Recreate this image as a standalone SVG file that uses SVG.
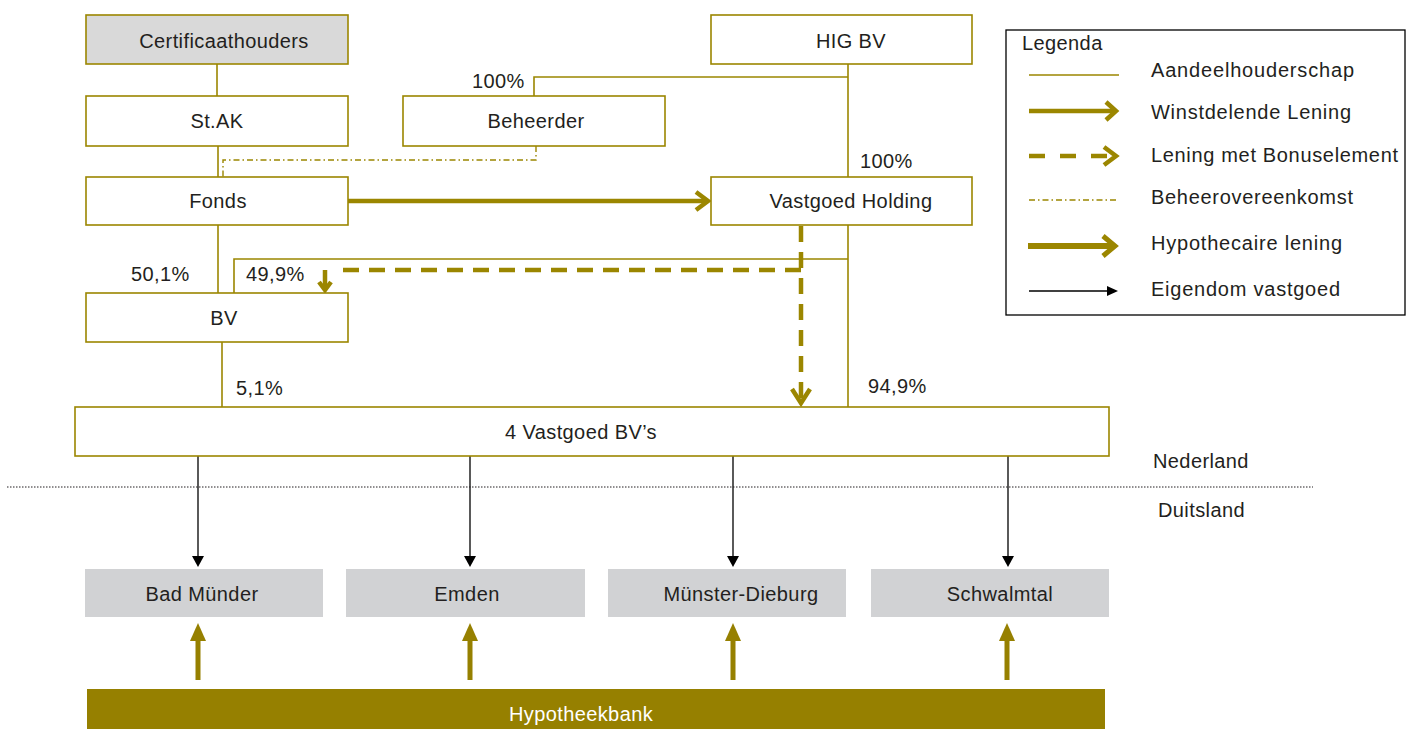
<svg xmlns="http://www.w3.org/2000/svg" width="1411" height="729" viewBox="0 0 1411 729">
<style>
text{font-family:"Liberation Sans","Noto Sans",sans-serif;font-size:20px;letter-spacing:0.4px;fill:#231f20}
.c{text-anchor:middle}
.lg{letter-spacing:0}
.box{fill:#fff;stroke:#9b8600;stroke-width:1.6}
.gbox{fill:#d9d9d9;stroke:#9b8600;stroke-width:1.6}
.de{fill:#d1d2d4}
.own{fill:none;stroke:#9b8600;stroke-width:1.6}
.thick{fill:none;stroke:#9b8600;stroke-width:4.5}
.dash{fill:none;stroke:#9b8600;stroke-width:4.5;stroke-dasharray:16,10}
.dd{fill:none;stroke:#9b8600;stroke-width:1.4;stroke-dasharray:6,3,1.5,3}
.blk{fill:none;stroke:#000;stroke-width:1.3}
</style>
<rect width="1411" height="729" fill="#fff"/>
<g id="connectors">
<line class="own" x1="217" y1="64" x2="217" y2="96"/>
<line class="own" x1="218" y1="146" x2="218" y2="177"/>
<line class="own" x1="848" y1="64" x2="848" y2="177"/>
<polyline class="own" points="848,77 534,77 534,96"/>
<line class="own" x1="218" y1="225" x2="218" y2="293"/>
<line class="own" x1="848" y1="225" x2="848" y2="407"/>
<polyline class="own" points="848,259 234,259 234,293"/>
<line class="own" x1="222" y1="342" x2="222" y2="407"/>
<polyline class="dd" points="536,146 536,160 223,160 223,177"/>
<line class="thick" x1="348" y1="201" x2="707" y2="201"/>
<polyline class="thick" points="696,192 708,201 696,210"/>
<line class="dash" x1="801" y1="226" x2="801" y2="402"/>
<polyline class="thick" points="792,389 801,403 810,389"/>
<line class="dash" x1="801" y1="270" x2="336" y2="270"/>
<line class="thick" x1="325" y1="270" x2="325" y2="289"/>
<polyline class="thick" points="319,282 325,290 331,282"/>
<g>
<line class="blk" x1="198" y1="456" x2="198" y2="558"/><path d="M192,556 L204,556 L198,567 Z" fill="#000"/>
<line class="blk" x1="470" y1="456" x2="470" y2="558"/><path d="M464,556 L476,556 L470,567 Z" fill="#000"/>
<line class="blk" x1="733" y1="456" x2="733" y2="558"/><path d="M727,556 L739,556 L733,567 Z" fill="#000"/>
<line class="blk" x1="1008" y1="456" x2="1008" y2="558"/><path d="M1002,556 L1014,556 L1008,567 Z" fill="#000"/>
</g>
<g fill="#968000">
<rect x="195.5" y="638" width="5" height="42"/><path d="M190,641 L206,641 L198,623 Z"/>
<rect x="467.5" y="638" width="5" height="42"/><path d="M462,641 L478,641 L470,623 Z"/>
<rect x="730.5" y="638" width="5" height="42"/><path d="M725,641 L741,641 L733,623 Z"/>
<rect x="1004.5" y="638" width="5" height="42"/><path d="M999,641 L1015,641 L1007,623 Z"/>
</g>
</g>
<g id="labels">
<text x="472" y="88">100%</text>
<text x="860" y="168">100%</text>
<text x="131" y="281">50,1%</text>
<text x="246" y="281">49,9%</text>
<text x="236" y="395">5,1%</text>
<text x="868" y="393">94,9%</text>
</g>
<line x1="7" y1="487" x2="1313" y2="487" stroke="#231f20" stroke-width="1" stroke-dasharray="1.5,1.5"/>
<text x="1153" y="468">Nederland</text>
<text x="1158" y="517">Duitsland</text>
<g id="certificaathouders"><rect class="gbox" x="86" y="15" width="262" height="49"/><text class="c" x="224" y="48">Certificaathouders</text></g>
<g id="higbv"><rect class="box" x="711" y="15" width="261" height="49"/><text class="c" x="851" y="48">HIG BV</text></g>
<g id="stak"><rect class="box" x="86" y="96" width="262" height="50"/><text class="c" x="217" y="128">St.AK</text></g>
<g id="beheerder"><rect class="box" x="403" y="96" width="262" height="50"/><text class="c" x="536" y="128">Beheerder</text></g>
<g id="fonds"><rect class="box" x="86" y="177" width="262" height="48"/><text class="c" x="218" y="208">Fonds</text></g>
<g id="vastgoedholding"><rect class="box" x="711" y="177" width="261" height="48"/><text class="c" x="851" y="208">Vastgoed Holding</text></g>
<g id="bv"><rect class="box" x="86" y="293" width="262" height="49"/><text class="c" x="224" y="325">BV</text></g>
<g id="vastgoedbvs"><rect class="box" x="75" y="407" width="1034" height="49"/><text class="c" x="581" y="439">4 Vastgoed BV’s</text></g>
<g id="badmunder"><rect class="de" x="85" y="569" width="238" height="48"/><text class="c" x="202" y="601">Bad Münder</text></g>
<g id="emden"><rect class="de" x="346" y="569" width="239" height="48"/><text class="c" x="467" y="601">Emden</text></g>
<g id="munsterdieburg"><rect class="de" x="608" y="569" width="238" height="48"/><text class="c" x="741" y="601">Münster-Dieburg</text></g>
<g id="schwalmtal"><rect class="de" x="871" y="569" width="238" height="48"/><text class="c" x="1000" y="601">Schwalmtal</text></g>
<g id="hypotheekbank"><rect x="87" y="689" width="1018" height="40" fill="#968000"/><text class="c" x="581" y="721" style="fill:#fff">Hypotheekbank</text></g>
<g id="legend">
<rect x="1006" y="30" width="399" height="285" fill="#fff" stroke="#000" stroke-width="1.3"/>
<text x="1022" y="50">Legenda</text>
<line class="own" x1="1029" y1="75" x2="1119" y2="75"/>
<text class="lg" x="1151" y="77" textLength="203">Aandeelhouderschap</text>
<line class="thick" x1="1029" y1="111" x2="1114" y2="111"/>
<polyline class="thick" points="1106,102 1116,111 1106,120"/>
<text class="lg" x="1151" y="119" textLength="200">Winstdelende Lening</text>
<line class="dash" x1="1029" y1="156" x2="1110" y2="156" style="stroke-dasharray:16,15"/>
<polyline class="thick" points="1104,147 1116,156 1104,165"/>
<text class="lg" x="1151" y="162" textLength="247">Lening met Bonuselement</text>
<line class="dd" x1="1029" y1="200" x2="1119" y2="200"/>
<text class="lg" x="1151" y="204" textLength="202">Beheerovereenkomst</text>
<line class="thick" x1="1028" y1="246" x2="1112" y2="246" style="stroke-width:6"/>
<polyline class="thick" points="1103,236 1115,246 1103,256" style="stroke-width:5"/>
<text class="lg" x="1151" y="250" textLength="191">Hypothecaire lening</text>
<line class="blk" x1="1029" y1="291" x2="1110" y2="291"/>
<path d="M1107,286 L1118,291 L1107,296 Z" fill="#000"/>
<text class="lg" x="1151" y="296" textLength="189">Eigendom vastgoed</text>
</g>
</svg>
